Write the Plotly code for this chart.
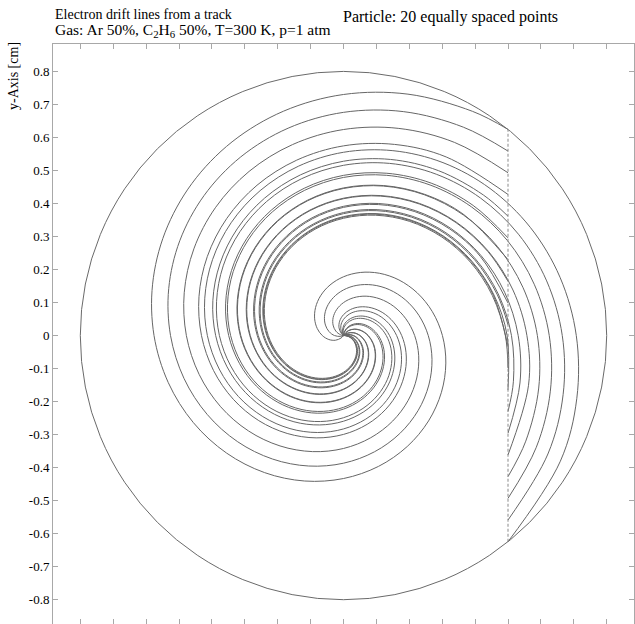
import numpy as np
import plotly.graph_objects as go

# ---------------- data (cm, degrees) ----------------
WALL_RADIUS_CM = 0.8
TRACK_X_CM = 0.5
TRACK_Y_CM = [-0.6245, 0.6245]

# drift lines: (polar angle in degrees, radius in cm) waypoints,
# from the starting point on the track to the anode wire at the centre
DRIFT_LINE_00 = [(-51.34, 0.8000), (-30, 0.7611), (-15, 0.7342), (0, 0.7076), (15, 0.6814), (30, 0.6555), (45, 0.6299), (60, 0.6047), (75, 0.5797), (90, 0.5551), (105, 0.5308), (120, 0.5068), (135, 0.4831), (150, 0.4597), (165, 0.4366), (180, 0.4138), (195, 0.3912), (210, 0.3690), (225, 0.3470), (240, 0.3254), (255, 0.3040), (270, 0.2828), (285, 0.2619), (300, 0.2413), (315, 0.2210), (330, 0.2009), (345, 0.1811), (360, 0.1615), (375, 0.1421), (390, 0.1230), (405, 0.1042), (420, 0.0856), (435, 0.0672), (450, 0.0490), (465, 0.0311), (480, 0.0134), (491.5, 0.0)]
DRIFT_LINE_01 = [(-48.17, 0.7498), (-30, 0.7174), (-15, 0.6911), (0, 0.6650), (15, 0.6393), (30, 0.6140), (45, 0.5889), (60, 0.5642), (75, 0.5398), (90, 0.5156), (105, 0.4918), (120, 0.4683), (135, 0.4451), (150, 0.4222), (165, 0.3995), (180, 0.3772), (195, 0.3551), (210, 0.3333), (225, 0.3118), (240, 0.2906), (255, 0.2696), (270, 0.2489), (285, 0.2285), (300, 0.2083), (315, 0.1884), (330, 0.1687), (345, 0.1493), (360, 0.1301), (375, 0.1111), (390, 0.0924), (405, 0.0739), (420, 0.0557), (435, 0.0377), (450, 0.0199), (465, 0.0024), (467.0, 0.0)]
DRIFT_LINE_02 = [(-44.60, 0.7022), (-30, 0.6767), (-15, 0.6509), (0, 0.6254), (15, 0.6002), (30, 0.5753), (45, 0.5507), (60, 0.5265), (75, 0.5025), (90, 0.4789), (105, 0.4555), (120, 0.4325), (135, 0.4097), (150, 0.3872), (165, 0.3650), (180, 0.3431), (195, 0.3215), (210, 0.3001), (225, 0.2790), (240, 0.2582), (255, 0.2377), (270, 0.2174), (285, 0.1973), (300, 0.1775), (315, 0.1580), (330, 0.1387), (345, 0.1196), (360, 0.1008), (375, 0.0822), (390, 0.0639), (405, 0.0458), (420, 0.0279), (435, 0.0103), (443.8, 0.0)]
DRIFT_LINE_03 = [(-40.52, 0.6577), (-30, 0.6397), (-15, 0.6143), (0, 0.5893), (15, 0.5645), (30, 0.5401), (45, 0.5160), (60, 0.4922), (75, 0.4687), (90, 0.4454), (105, 0.4225), (120, 0.3999), (135, 0.3775), (150, 0.3555), (165, 0.3337), (180, 0.3122), (195, 0.2909), (210, 0.2699), (225, 0.2492), (240, 0.2288), (255, 0.2086), (270, 0.1887), (285, 0.1690), (300, 0.1495), (315, 0.1304), (330, 0.1114), (345, 0.0927), (360, 0.0742), (375, 0.0560), (390, 0.0380), (405, 0.0202), (420, 0.0026), (422.3, 0.0)]
DRIFT_LINE_04 = [(-35.87, 0.6170), (-15, 0.5822), (0, 0.5575), (15, 0.5332), (30, 0.5092), (45, 0.4854), (60, 0.4620), (75, 0.4389), (90, 0.4160), (105, 0.3935), (120, 0.3712), (135, 0.3492), (150, 0.3275), (165, 0.3061), (180, 0.2849), (195, 0.2640), (210, 0.2434), (225, 0.2230), (240, 0.2029), (255, 0.1830), (270, 0.1634), (285, 0.1440), (300, 0.1249), (315, 0.1060), (330, 0.0874), (345, 0.0690), (360, 0.0508), (375, 0.0329), (390, 0.0152), (403.0, 0.0)]
DRIFT_LINE_05 = [(-30.61, 0.5810), (-15, 0.5553), (0, 0.5310), (15, 0.5070), (30, 0.4833), (45, 0.4599), (60, 0.4368), (75, 0.4140), (90, 0.3914), (105, 0.3692), (120, 0.3472), (135, 0.3256), (150, 0.3041), (165, 0.2830), (180, 0.2621), (195, 0.2415), (210, 0.2212), (225, 0.2011), (240, 0.1812), (255, 0.1616), (270, 0.1423), (285, 0.1232), (300, 0.1044), (315, 0.0857), (330, 0.0673), (345, 0.0492), (360, 0.0313), (375, 0.0136), (386.6, 0.0)]
DRIFT_LINE_06 = [(-24.71, 0.5504), (-15, 0.5347), (0, 0.5106), (15, 0.4869), (30, 0.4634), (45, 0.4403), (60, 0.4174), (75, 0.3948), (90, 0.3725), (105, 0.3505), (120, 0.3288), (135, 0.3074), (150, 0.2862), (165, 0.2653), (180, 0.2446), (195, 0.2242), (210, 0.2041), (225, 0.1842), (240, 0.1646), (255, 0.1452), (270, 0.1261), (285, 0.1072), (300, 0.0885), (315, 0.0701), (330, 0.0519), (345, 0.0340), (360, 0.0162), (373.9, 0.0)]
DRIFT_LINE_07 = [(-18.20, 0.5263), (0, 0.4973), (15, 0.4737), (30, 0.4505), (45, 0.4275), (60, 0.4048), (75, 0.3824), (90, 0.3602), (105, 0.3384), (120, 0.3168), (135, 0.2955), (150, 0.2745), (165, 0.2537), (180, 0.2332), (195, 0.2129), (210, 0.1930), (225, 0.1732), (240, 0.1537), (255, 0.1345), (270, 0.1155), (285, 0.0967), (300, 0.0782), (315, 0.0599), (330, 0.0419), (345, 0.0240), (360, 0.0064), (365.5, 0.0)]
DRIFT_LINE_08 = [(-11.16, 0.5096), (0, 0.4919), (15, 0.4684), (30, 0.4452), (45, 0.4223), (60, 0.3997), (75, 0.3773), (90, 0.3552), (105, 0.3335), (120, 0.3120), (135, 0.2907), (150, 0.2697), (165, 0.2490), (180, 0.2286), (195, 0.2084), (210, 0.1885), (225, 0.1688), (240, 0.1494), (255, 0.1302), (270, 0.1112), (285, 0.0925), (300, 0.0741), (315, 0.0558), (330, 0.0378), (345, 0.0200), (360, 0.0025), (362.1, 0.0)]
DRIFT_LINE_09 = [(-3.76, 0.5011), (15, 0.4716), (30, 0.4483), (45, 0.4254), (60, 0.4027), (75, 0.3803), (90, 0.3582), (105, 0.3364), (120, 0.3148), (135, 0.2935), (150, 0.2725), (165, 0.2518), (180, 0.2313), (195, 0.2111), (210, 0.1911), (225, 0.1714), (240, 0.1519), (255, 0.1327), (270, 0.1138), (285, 0.0950), (300, 0.0765), (315, 0.0583), (330, 0.0402), (345, 0.0224), (360, 0.0048), (364.1, 0.0)]
DRIFT_LINE_10 = [(3.76, 0.5011), (15, 0.4833), (30, 0.4599), (45, 0.4368), (60, 0.4140), (75, 0.3915), (90, 0.3692), (105, 0.3473), (120, 0.3256), (135, 0.3042), (150, 0.2830), (165, 0.2622), (180, 0.2416), (195, 0.2212), (210, 0.2011), (225, 0.1813), (240, 0.1617), (255, 0.1423), (270, 0.1232), (285, 0.1044), (300, 0.0858), (315, 0.0674), (330, 0.0492), (345, 0.0313), (360, 0.0136), (371.7, 0.0)]
DRIFT_LINE_11 = [(11.16, 0.5096), (30, 0.4799), (45, 0.4565), (60, 0.4334), (75, 0.4107), (90, 0.3882), (105, 0.3660), (120, 0.3440), (135, 0.3224), (150, 0.3010), (165, 0.2799), (180, 0.2591), (195, 0.2385), (210, 0.2182), (225, 0.1982), (240, 0.1783), (255, 0.1588), (270, 0.1395), (285, 0.1204), (300, 0.1016), (315, 0.0830), (330, 0.0647), (345, 0.0466), (360, 0.0287), (375, 0.0110), (384.4, 0.0)]
DRIFT_LINE_12 = [(18.20, 0.5263), (30, 0.5074), (45, 0.4837), (60, 0.4603), (75, 0.4372), (90, 0.4144), (105, 0.3919), (120, 0.3696), (135, 0.3476), (150, 0.3260), (165, 0.3045), (180, 0.2834), (195, 0.2625), (210, 0.2419), (225, 0.2215), (240, 0.2014), (255, 0.1816), (270, 0.1620), (285, 0.1427), (300, 0.1236), (315, 0.1047), (330, 0.0861), (345, 0.0677), (360, 0.0495), (375, 0.0316), (390, 0.0139), (401.9, 0.0)]
DRIFT_LINE_13 = [(24.71, 0.5504), (45, 0.5177), (60, 0.4938), (75, 0.4703), (90, 0.4471), (105, 0.4241), (120, 0.4015), (135, 0.3791), (150, 0.3570), (165, 0.3352), (180, 0.3137), (195, 0.2924), (210, 0.2714), (225, 0.2507), (240, 0.2302), (255, 0.2100), (270, 0.1900), (285, 0.1704), (300, 0.1509), (315, 0.1317), (330, 0.1127), (345, 0.0940), (360, 0.0755), (375, 0.0573), (390, 0.0392), (405, 0.0214), (420, 0.0039), (423.3, 0.0)]
DRIFT_LINE_14 = [(30.61, 0.5810), (45, 0.5573), (60, 0.5330), (75, 0.5089), (90, 0.4852), (105, 0.4618), (120, 0.4387), (135, 0.4158), (150, 0.3933), (165, 0.3710), (180, 0.3490), (195, 0.3273), (210, 0.3059), (225, 0.2847), (240, 0.2638), (255, 0.2432), (270, 0.2228), (285, 0.2027), (300, 0.1828), (315, 0.1632), (330, 0.1439), (345, 0.1248), (360, 0.1059), (375, 0.0872), (390, 0.0688), (405, 0.0507), (420, 0.0327), (435, 0.0150), (447.9, 0.0)]
DRIFT_LINE_15 = [(35.87, 0.6170), (45, 0.6017), (60, 0.5768), (75, 0.5522), (90, 0.5280), (105, 0.5040), (120, 0.4803), (135, 0.4570), (150, 0.4339), (165, 0.4111), (180, 0.3886), (195, 0.3664), (210, 0.3445), (225, 0.3228), (240, 0.3015), (255, 0.2803), (270, 0.2595), (285, 0.2389), (300, 0.2186), (315, 0.1985), (330, 0.1787), (345, 0.1592), (360, 0.1399), (375, 0.1208), (390, 0.1020), (405, 0.0834), (420, 0.0650), (435, 0.0469), (450, 0.0290), (465, 0.0114), (474.7, 0.0)]
DRIFT_LINE_16 = [(40.52, 0.6577), (60, 0.6245), (75, 0.5993), (90, 0.5745), (105, 0.5499), (120, 0.5257), (135, 0.5017), (150, 0.4781), (165, 0.4548), (180, 0.4317), (195, 0.4090), (210, 0.3865), (225, 0.3643), (240, 0.3424), (255, 0.3208), (270, 0.2994), (285, 0.2783), (300, 0.2575), (315, 0.2370), (330, 0.2167), (345, 0.1967), (360, 0.1769), (375, 0.1573), (390, 0.1381), (405, 0.1190), (420, 0.1002), (435, 0.0816), (450, 0.0633), (465, 0.0452), (480, 0.0273), (495, 0.0097), (503.3, 0.0)]
DRIFT_LINE_17 = [(44.60, 0.7022), (60, 0.6753), (75, 0.6495), (90, 0.6240), (105, 0.5988), (120, 0.5740), (135, 0.5494), (150, 0.5252), (165, 0.5012), (180, 0.4776), (195, 0.4543), (210, 0.4312), (225, 0.4085), (240, 0.3860), (255, 0.3639), (270, 0.3420), (285, 0.3203), (300, 0.2990), (315, 0.2779), (330, 0.2571), (345, 0.2366), (360, 0.2163), (375, 0.1962), (390, 0.1765), (405, 0.1569), (420, 0.1377), (435, 0.1186), (450, 0.0998), (465, 0.0812), (480, 0.0629), (495, 0.0448), (510, 0.0270), (525, 0.0093), (533.0, 0.0)]
DRIFT_LINE_18 = [(48.17, 0.7498), (60, 0.7287), (75, 0.7022), (90, 0.6760), (105, 0.6502), (120, 0.6247), (135, 0.5995), (150, 0.5746), (165, 0.5500), (180, 0.5258), (195, 0.5019), (210, 0.4782), (225, 0.4549), (240, 0.4318), (255, 0.4091), (270, 0.3866), (285, 0.3644), (300, 0.3425), (315, 0.3209), (330, 0.2995), (345, 0.2785), (360, 0.2577), (375, 0.2371), (390, 0.2168), (405, 0.1968), (420, 0.1770), (435, 0.1575), (450, 0.1382), (465, 0.1191), (480, 0.1003), (495, 0.0817), (510, 0.0634), (525, 0.0453), (540, 0.0274), (555, 0.0098), (563.4, 0.0)]
DRIFT_LINE_19 = [(51.34, 0.8000), (60, 0.7841), (75, 0.7569), (90, 0.7301), (105, 0.7036), (120, 0.6774), (135, 0.6515), (150, 0.6260), (165, 0.6008), (180, 0.5759), (195, 0.5513), (210, 0.5271), (225, 0.5031), (240, 0.4794), (255, 0.4561), (270, 0.4330), (285, 0.4103), (300, 0.3878), (315, 0.3656), (330, 0.3437), (345, 0.3220), (360, 0.3007), (375, 0.2796), (390, 0.2587), (405, 0.2382), (420, 0.2179), (435, 0.1978), (450, 0.1780), (465, 0.1585), (480, 0.1392), (495, 0.1201), (510, 0.1013), (525, 0.0827), (540, 0.0644), (555, 0.0462), (570, 0.0284), (585, 0.0107), (594.2, 0.0)]

X_TICKS = [-0.8, -0.7, -0.6, -0.5, -0.4, -0.3, -0.2, -0.1, 0.0, 0.1, 0.2, 0.3, 0.4, 0.5, 0.6, 0.7, 0.8]
Y_TICKS = [0.8, 0.7, 0.6, 0.5, 0.4, 0.3, 0.2, 0.1, 0.0, -0.1, -0.2, -0.3, -0.4, -0.5, -0.6, -0.7, -0.8]
Y_TICK_LABELS = ["0.8", "0.7", "0.6", "0.5", "0.4", "0.3", "0.2", "0.1", "0",
                 "-0.1", "-0.2", "-0.3", "-0.4", "-0.5", "-0.6", "-0.7", "-0.8"]

TITLE_LINE_1 = "Electron drift lines from a track"
TITLE_LINE_2 = "Gas: Ar 50%, C<sub>2</sub>H<sub>6</sub> 50%, T=300 K, p=1 atm"
TITLE_RIGHT = "Particle: 20 equally spaced points"
Y_TITLE = "y-Axis [cm]"

DRIFT_LINES = [DRIFT_LINE_00, DRIFT_LINE_01, DRIFT_LINE_02, DRIFT_LINE_03, DRIFT_LINE_04,
               DRIFT_LINE_05, DRIFT_LINE_06, DRIFT_LINE_07, DRIFT_LINE_08, DRIFT_LINE_09,
               DRIFT_LINE_10, DRIFT_LINE_11, DRIFT_LINE_12, DRIFT_LINE_13, DRIFT_LINE_14,
               DRIFT_LINE_15, DRIFT_LINE_16, DRIFT_LINE_17, DRIFT_LINE_18, DRIFT_LINE_19]

# ---------------- figure ----------------
W, H = 635, 624
ML, MR, MT, MB = 53, 1, 44, 0
FONT = "Liberation Serif"
LINE_COLOR = "#666666"
FRAME_COLOR = "#a8a8a8"

fig = go.Figure()

for pts in DRIFT_LINES:
    th = np.radians([p[0] for p in pts])
    r = np.array([p[1] for p in pts])
    fig.add_trace(go.Scatter(
        x=r * np.cos(th), y=r * np.sin(th), mode="lines",
        line=dict(color=LINE_COLOR, width=1, shape="spline", smoothing=1.0),
        hoverinfo="skip", showlegend=False))

# track
fig.add_trace(go.Scatter(
    x=[TRACK_X_CM, TRACK_X_CM], y=TRACK_Y_CM, mode="lines",
    line=dict(color="#8a8a8a", width=1, dash="3px,2px"),
    hoverinfo="skip", showlegend=False))

# tube wall
fig.add_shape(type="circle", xref="x", yref="y",
              x0=-WALL_RADIUS_CM, y0=-WALL_RADIUS_CM, x1=WALL_RADIUS_CM, y1=WALL_RADIUS_CM,
              line=dict(color="#6a6a6a", width=1), layer="below")

plot_w = W - ML - MR
plot_h = H - MT - MB


def px_x(px):
    return (px - ML) / plot_w


def px_y(py):
    return (H - MB - py) / plot_h


fig.update_layout(
    width=W, height=H,
    margin=dict(l=ML, r=MR, t=MT, b=MB, pad=0, autoexpand=False),
    paper_bgcolor="white", plot_bgcolor="white",
    template="none",
    xaxis=dict(range=[-0.883, 0.883], tickvals=X_TICKS, showticklabels=False,
               ticks="inside", ticklen=5, tickwidth=1, tickcolor=FRAME_COLOR,
               showline=True, linecolor=FRAME_COLOR, linewidth=1, mirror="ticks",
               showgrid=False, zeroline=False, automargin=False, fixedrange=True),
    yaxis=dict(range=[-0.8736, 0.883], tickvals=Y_TICKS, ticktext=Y_TICK_LABELS,
               ticks="inside", ticklen=5, tickwidth=1, tickcolor=FRAME_COLOR,
               showline=True, linecolor=FRAME_COLOR, linewidth=1, mirror="ticks",
               tickfont=dict(family=FONT, size=13, color="black"),
               showgrid=False, zeroline=False, automargin=False, fixedrange=True),
    annotations=[
        dict(text=TITLE_LINE_1, xref="paper", yref="paper", x=px_x(53), y=px_y(24),
             xanchor="left", yanchor="bottom", showarrow=False,
             font=dict(family=FONT, size=14, color="black")),
        dict(text=TITLE_LINE_2, xref="paper", yref="paper", x=px_x(53), y=px_y(42),
             xanchor="left", yanchor="bottom", showarrow=False,
             font=dict(family=FONT, size=15.5, color="black")),
        dict(text=TITLE_RIGHT, xref="paper", yref="paper", x=px_x(341), y=px_y(28),
             xanchor="left", yanchor="bottom", showarrow=False,
             font=dict(family=FONT, size=16, color="black")),
        dict(text=Y_TITLE, xref="paper", yref="paper", x=px_x(13), y=px_y(40),
             xanchor="center", yanchor="top", textangle=-90, showarrow=False,
             font=dict(family=FONT, size=14, color="black")),
    ],
)

fig.write_html("out.html")
